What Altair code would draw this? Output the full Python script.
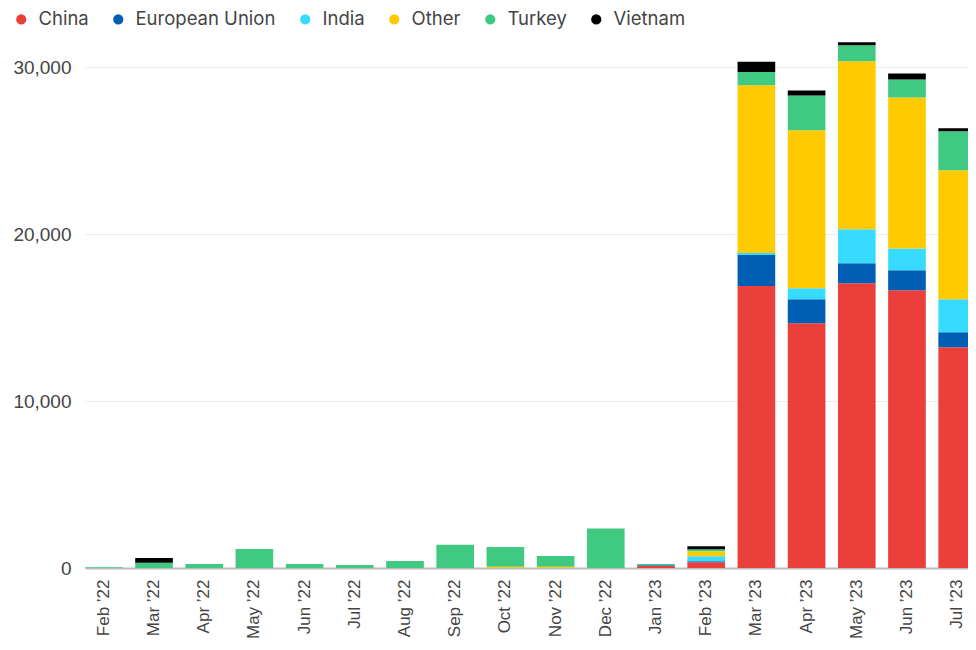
import altair as alt
import pandas as pd

months = ["Feb ’22", "Mar ’22", "Apr ’22", "May ’22", "Jun ’22", "Jul ’22", "Aug ’22",
          "Sep ’22", "Oct ’22", "Nov ’22", "Dec ’22", "Jan ’23", "Feb ’23", "Mar ’23",
          "Apr ’23", "May ’23", "Jun ’23", "Jul ’23"]

series = ["China", "European Union", "India", "Other", "Turkey", "Vietnam"]
colors = ["#EA3F3B", "#005EB5", "#36DBFF", "#FFCB00", "#40C980", "#000000"]

china   = [0, 0, 0, 0, 0, 0, 0, 0, 0, 0, 0, 120, 340, 16900, 14670, 17070, 16650, 13230]
eu      = [0, 0, 0, 0, 0, 0, 0, 0, 0, 0, 0, 50, 60, 1850, 1440, 1190, 1190, 900]
india   = [0, 0, 0, 0, 0, 0, 0, 0, 0, 0, 0, 10, 300, 130, 660, 2040, 1300, 1980]
other   = [0, 0, 0, 0, 0, 0, 0, 0, 80, 80, 0, 0, 300, 10050, 9460, 10060, 9060, 7720]
turkey  = [50, 320, 240, 1140, 240, 180, 420, 1400, 1180, 640, 2370, 60, 120, 800, 2090, 960, 1080, 2340]
vietnam = [0, 280, 0, 0, 0, 0, 0, 0, 0, 0, 0, 0, 180, 600, 300, 180, 360, 180]

values = [china, eu, india, other, turkey, vietnam]
rows = []
for si, (name, vals) in enumerate(zip(series, values)):
    for m, v in zip(months, vals):
        if v > 0:
            rows.append({"month": m, "country": name, "value": v, "order": si})
df = pd.DataFrame(rows)

chart = alt.Chart(df).mark_bar(clip=True).encode(
    x=alt.X("month:N", sort=months,
            scale=alt.Scale(range=[3, 894], paddingInner=0.25, paddingOuter=0),
            axis=alt.Axis(title=None, labelAngle=270, ticks=False, domainColor="#bbbbbb",
                          domainWidth=2, labelFont="Liberation Sans", labelFontSize=17,
                          labelColor="#444444", labelPadding=11)),
    y=alt.Y("value:Q", stack="zero",
            scale=alt.Scale(domain=[0, 32000], nice=False),
            axis=alt.Axis(title=None, values=[0, 10000, 20000, 30000], format=",d",
                          domain=False, ticks=False, gridColor="#ebebeb",
                          labelFont="Liberation Sans", labelFontSize=19,
                          labelColor="#444444", labelPadding=11)),
    color=alt.Color("country:N",
                    scale=alt.Scale(domain=series, range=colors),
                    legend=alt.Legend(title=None, orient="none", legendX=-70, legendY=-24,
                                      direction="horizontal", symbolType="circle",
                                      symbolSize=105, symbolStrokeWidth=0,
                                      labelFont="Inter", labelFontSize=18.5,
                                      labelColor="#444444", columnPadding=20,
                                      labelOffset=8, padding=0)),
    order=alt.Order("order:Q", sort="ascending"),
).properties(
    width=886, height=534,
    background="white",
    autosize=alt.AutoSizeParams(type="none"),
    padding={"left": 74, "top": 26, "right": 0, "bottom": 74},
).configure_view(stroke=None)

chart.save("out.html", embed_options={"renderer": "svg", "actions": False})
